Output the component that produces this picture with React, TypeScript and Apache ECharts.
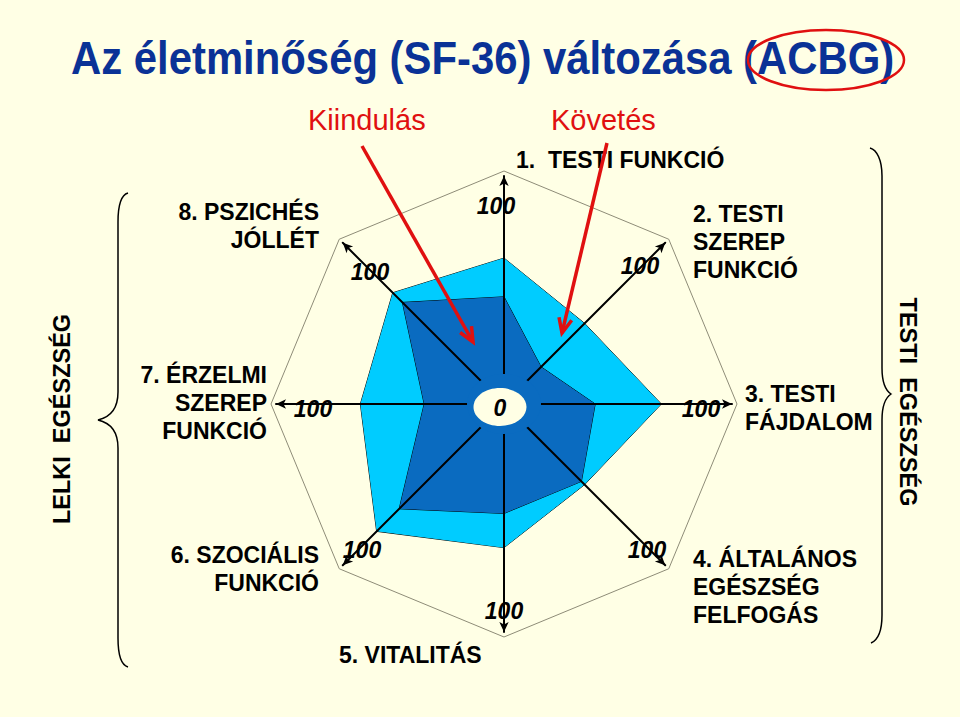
import React, { useEffect, useRef } from "react";
import * as echarts from "echarts";

// ---------- data ----------
const title = "Az életminőség (SF-36) változása (ACBG)";
const categories = [
  "1.  TESTI FUNKCIÓ",
  "2. TESTI\nSZEREP\nFUNKCIÓ",
  "3. TESTI\nFÁJDALOM",
  "4. ÁLTALÁNOS\nEGÉSZSÉG\nFELFOGÁS",
  "5. VITALITÁS",
  "6. SZOCIÁLIS\nFUNKCIÓ",
  "7. ÉRZELMI\nSZEREP\nFUNKCIÓ",
  "8. PSZICHÉS\nJÓLLÉT",
];
const seriesNames = ["Kiindulás", "Követés"];
const kiindulas = [47, 23, 40, 48, 48, 65, 35, 63];
const kovetes = [64, 50, 69, 50, 63, 79, 63, 69];
const axisMin = 0;
const axisMax = 100;
const tickLabels = ["100", "100", "100", "100", "100", "100", "100", "100"];
const centerLabel = "0";
const groupLabels = ["LELKI  EGÉSZSÉG", "TESTI  EGÉSZSÉG"];

// ---------- layout / style ----------
const W = 960;
const H = 717;
const CX = 504;
const CY = 404;
const R = 228;
const R_OCT = 233;
const FONT = "'Liberation Sans', Arial, Helvetica, sans-serif";
const BG = "#FFFFE5";
const LIGHT = "#00CCFF";
const DARK = "#0A6BC0";
const RED = "#E01010";
const TITLE_COLOR = "#0A3296";

// first-line cap centre of each category label
const labelLayout = [
  { x: 516, y: 160, align: "left" },
  { x: 693, y: 214, align: "left" },
  { x: 745, y: 394, align: "left" },
  { x: 693, y: 559, align: "left" },
  { x: 339, y: 655, align: "left" },
  { x: 319, y: 555, align: "right" },
  { x: 267, y: 375, align: "right" },
  { x: 319, y: 212, align: "right" },
];
const tickLayout = [
  [496, 206],
  [640, 266],
  [701, 409],
  [647, 550],
  [504, 611],
  [362, 550],
  [313, 409],
  [370, 272],
];
const redLabelLayout = [
  { x: 308, y: 120, from: [362, 146], to: [473, 342] },
  { x: 551, y: 120, from: [607, 143], to: [562, 333] },
];

const braceL =
  "M128,193 C121,195 118,205 118,222 L118,392 C118,408 111,417 98,420 C111,423 118,432 118,448 L118,638 C118,655 121,665 128,667";
const braceR =
  "M870,148 C877,150 882,160 882,176 L882,368 C882,382 885,390 891,394 C885,398 882,406 882,420 L882,615 C882,630 878,640 871,643";

echarts.graphic.registerShape("braceL", echarts.graphic.extendPath(braceL, {}));
echarts.graphic.registerShape("braceR", echarts.graphic.extendPath(braceR, {}));

// ECharts radar places indicators counter-clockwise; reorder to run clockwise from the top
const order = [0, 7, 6, 5, 4, 3, 2, 1];

function arrowHead(from: number[], to: number[], len: number, spread: number) {
  const ang = Math.atan2(to[1] - from[1], to[0] - from[0]);
  const a1 = ang + Math.PI - spread;
  const a2 = ang + Math.PI + spread;
  return [
    [to[0] + len * Math.cos(a1), to[1] + len * Math.sin(a1)],
    [to[0], to[1]],
    [to[0] + len * Math.cos(a2), to[1] + len * Math.sin(a2)],
  ];
}

export default function App() {
  const ref = useRef<HTMLDivElement>(null);

  useEffect(() => {
    if (!ref.current) return;
    const chart = echarts.init(ref.current, undefined, { renderer: "svg" });

    const indicator = order.map((i) => ({ name: categories[i], min: axisMin, max: axisMax }));
    const hidden = {
      axisName: { show: false },
      axisLine: { show: false },
      axisTick: { show: false },
      axisLabel: { show: false },
      splitLine: { show: false },
      splitArea: { show: false },
    };

    const graphic: any[] = [];

    // title
    graphic.push({
      type: "text",
      x: 71,
      y: 58,
      scaleX: 0.91,
      z: 100,
      style: {
        text: title,
        fontFamily: FONT,
        fontWeight: "bold",
        fontSize: 46,
        fill: TITLE_COLOR,
        align: "left",
        verticalAlign: "middle",
      },
    });
    graphic.push({
      type: "ellipse",
      z: 101,
      shape: { cx: 826, cy: 60, rx: 78, ry: 30 },
      style: { fill: "none", stroke: RED, lineWidth: 2.5 },
    });

    // red series labels + arrows
    redLabelLayout.forEach((l, i) => {
      graphic.push({
        type: "text",
        x: l.x,
        y: l.y,
        z: 100,
        style: {
          text: seriesNames[i],
          fontFamily: FONT,
          fontSize: 29,
          fill: RED,
          align: "left",
          verticalAlign: "middle",
        },
      });
      graphic.push({
        type: "line",
        z: 120,
        shape: { x1: l.from[0], y1: l.from[1], x2: l.to[0], y2: l.to[1] },
        style: { stroke: RED, lineWidth: 3.5 },
      });
      graphic.push({
        type: "polyline",
        z: 120,
        shape: { points: arrowHead(l.from, l.to, 16, 0.42) },
        style: { stroke: RED, lineWidth: 3.5, fill: "none" },
      });
    });

    // category labels
    categories.forEach((c, i) => {
      const l = labelLayout[i];
      graphic.push({
        type: "text",
        x: l.x,
        y: l.y - 14,
        z: 100,
        style: {
          text: c,
          fontFamily: FONT,
          fontWeight: "bold",
          fontSize: 23,
          lineHeight: 28,
          fill: "#000",
          align: l.align,
          verticalAlign: "top",
        },
      });
    });

    // tick labels (100 at end of each axis)
    tickLabels.forEach((t, i) => {
      graphic.push({
        type: "text",
        x: tickLayout[i][0],
        y: tickLayout[i][1],
        z: 100,
        style: {
          text: t,
          fontFamily: FONT,
          fontWeight: "bold",
          fontStyle: "italic",
          fontSize: 23,
          fill: "#000",
          align: "center",
          verticalAlign: "middle",
        },
      });
    });

    // centre gap + zero label
    graphic.push({
      type: "ellipse",
      z: 110,
      shape: { cx: CX, cy: CY, rx: 37, ry: 30 },
      style: { fill: DARK },
    });
    graphic.push({
      type: "ellipse",
      z: 111,
      shape: { cx: CX - 4, cy: CY + 3, rx: 26.5, ry: 19 },
      style: { fill: BG },
    });
    graphic.push({
      type: "text",
      x: CX - 4,
      y: CY + 4,
      z: 112,
      style: {
        text: centerLabel,
        fontFamily: FONT,
        fontWeight: "bold",
        fontStyle: "italic",
        fontSize: 23,
        fill: "#000",
        align: "center",
        verticalAlign: "middle",
      },
    });

    // braces + group labels
    graphic.push({ type: "braceL", x: 0, y: 0, z: 100, style: { fill: "none", stroke: "#000", lineWidth: 1.5 } });
    graphic.push({ type: "braceR", x: 0, y: 0, z: 100, style: { fill: "none", stroke: "#000", lineWidth: 1.5 } });
    graphic.push({
      type: "text",
      x: 62,
      y: 419,
      rotation: Math.PI / 2,
      z: 100,
      style: {
        text: groupLabels[0],
        fontFamily: FONT,
        fontWeight: "bold",
        fontSize: 23.5,
        fill: "#000",
        align: "center",
        verticalAlign: "middle",
      },
    });
    graphic.push({
      type: "text",
      x: 908,
      y: 402,
      rotation: -Math.PI / 2,
      z: 100,
      style: {
        text: groupLabels[1],
        fontFamily: FONT,
        fontWeight: "bold",
        fontSize: 23.5,
        fill: "#000",
        align: "center",
        verticalAlign: "middle",
      },
    });

    chart.setOption({
      animation: false,
      backgroundColor: BG,
      radar: [
        { center: [CX, CY], radius: R, startAngle: 90, splitNumber: 1, indicator, ...hidden, z: 1 },
        {
          center: [CX, CY],
          radius: R_OCT,
          startAngle: 90,
          splitNumber: 1,
          shape: "polygon",
          indicator,
          ...hidden,
          splitLine: { show: true, lineStyle: { color: "#8E8C78", width: 1 } },
          z: 1,
        },
        {
          center: [CX, CY],
          radius: R,
          startAngle: 90,
          splitNumber: 1,
          indicator,
          ...hidden,
          axisLine: {
            show: true,
            symbol: ["none", "arrow"],
            symbolSize: [7, 10],
            lineStyle: { color: "#000", width: 2 },
          },
          z: 10,
        },
      ],
      series: [
        {
          type: "radar",
          radarIndex: 0,
          name: seriesNames[1],
          z: 3,
          symbol: "none",
          silent: true,
          lineStyle: { color: "#000", width: 1 },
          areaStyle: { color: LIGHT, opacity: 1 },
          itemStyle: { color: LIGHT },
          data: [{ name: seriesNames[1], value: order.map((i) => kovetes[i]) }],
        },
        {
          type: "radar",
          radarIndex: 0,
          name: seriesNames[0],
          z: 4,
          symbol: "none",
          silent: true,
          lineStyle: { color: "#000", width: 1 },
          areaStyle: { color: DARK, opacity: 1 },
          itemStyle: { color: DARK },
          data: [{ name: seriesNames[0], value: order.map((i) => kiindulas[i]) }],
        },
      ],
      graphic: { elements: graphic },
    });

    return () => chart.dispose();
  }, []);

  return (
    <div
      ref={ref}
      style={{ position: "fixed", left: 0, top: 0, width: W, height: H, background: BG }}
    />
  );
}
